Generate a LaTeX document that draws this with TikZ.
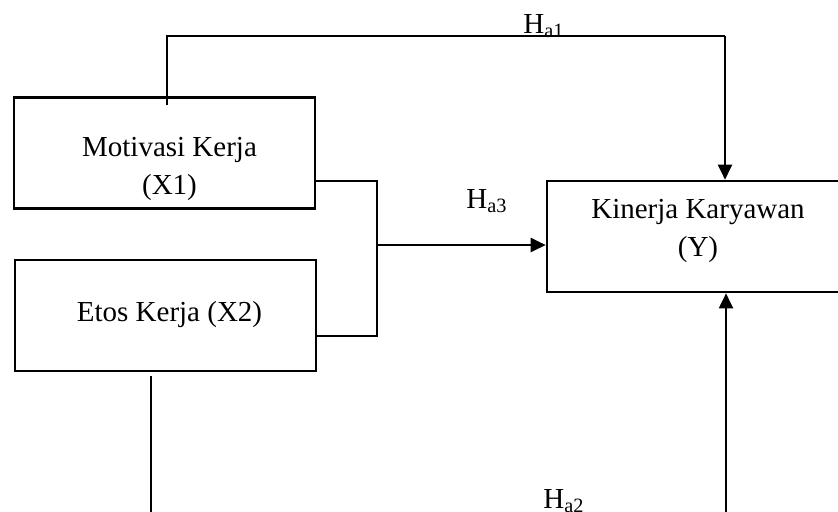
\documentclass[tikz,border=0pt]{standalone}
\usepackage{fontspec}
\setmainfont{Liberation Serif}
\usetikzlibrary{positioning, arrows.meta}

\begin{document}
\begin{tikzpicture}[
      x=0.5pt, y=-0.5pt,
      node_box/.style={rectangle, draw, line width=1.3pt, inner sep=0pt, minimum width=150.5pt, minimum height=55.5pt},
      node_txt/.style={align=center, inner sep=0pt, font=\fontsize{14.5}{19}\selectfont},
      edge_line/.style={line width=1pt},
      edge_path/.style={-{Triangle[length=7.5pt, width=7pt]}, line width=1pt}
    ]
      \useasboundingbox (0,0) rectangle (838,511);
      \clip (0,0) rectangle (838,511);

      \node[node_box] (X1) at (164.5,153) {};
      \node[node_box] (X2) at (165.5,315.5) {};
      \node[node_box, minimum width=196.5pt] (Y) at (743.5,236.5) {};

      \node[node_txt] (X1txt) at (169.5,168.5) {Motivasi Kerja\\(X1)};
      \node[node_txt, anchor=base] (X2txt) at (169.5,321) {Etos Kerja (X2)};
      \node[node_txt] (Ytxt) at (698,231) {Kinerja Karyawan\\(Y)};

      \node[node_txt, anchor=base west] (Ha1) at (523,33) {H\textsubscript{a1}};
      \node[node_txt, anchor=base west] (Ha3) at (466,208) {H\textsubscript{a3}};
      \node[node_txt, anchor=base west] (Ha2) at (543,508) {H\textsubscript{a2}};

      \coordinate (t1) at (167,105);
      \coordinate (t2) at (725,36);
      \coordinate (j1) at (377,181);
      \coordinate (j2) at (377,336);
      \coordinate (jm) at (377,245);
      \coordinate (b1) at (151,376);
      \coordinate (b2) at (151,520);
      \coordinate (b3) at (726,520);

      \draw[edge_line] (t1) |- (t2);
      \draw[edge_path] (t2) -- (t2 |- Y.north);
      \draw[edge_line] (X1.east |- j1) -- (j1) -- (j2) -- (X2.east |- j2);
      \draw[edge_path] (jm) -- (jm -| Y.west);
      \draw[edge_line] (b1) -- (b2);
      \draw[edge_path] (b3) -- (b3 |- Y.south);
    \end{tikzpicture}
\end{document}
